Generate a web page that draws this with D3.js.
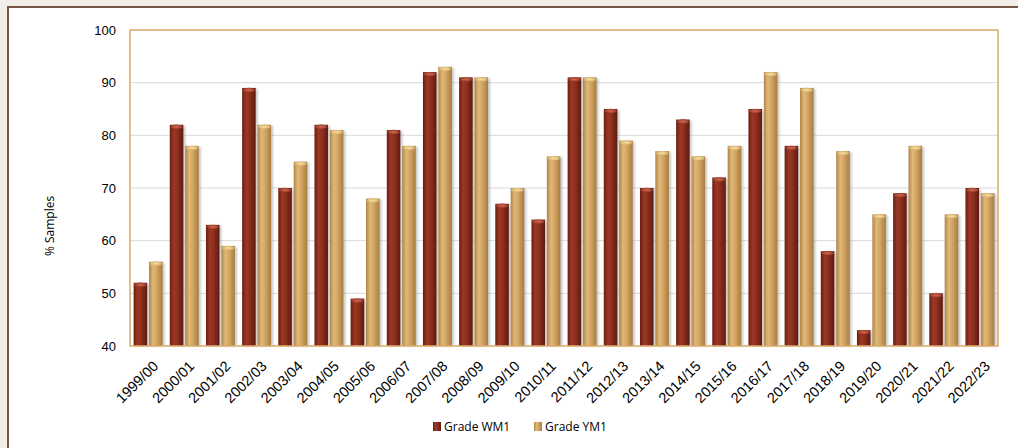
<!DOCTYPE html>
<html>
<head>
<meta charset="utf-8">
<script src="https://cdn.jsdelivr.net/npm/d3@7"></script>
<style>
  body { margin: 0; background: #f2ede7; }
  #frame { position: absolute; left: 7px; top: 6px; width: 1020px; height: 450px;
           background: #fff; border-left: 2px solid #7a5646; border-top: 2px solid #7a5646; }
  svg { position: absolute; left: 0; top: 0; }
</style>
</head>
<body>
<div id="frame"></div>
<div class="chart"></div>
<script>
var seasons = ["1999/00","2000/01","2001/02","2002/03","2003/04","2004/05","2005/06","2006/07",
               "2007/08","2008/09","2009/10","2010/11","2011/12","2012/13","2013/14","2014/15",
               "2015/16","2016/17","2017/18","2018/19","2019/20","2020/21","2021/22","2022/23"];
var gradeWM1 = [52,82,63,89,70,82,49,81,92,91,67,64,91,85,70,83,72,85,78,58,43,69,50,70];
var gradeYM1 = [56,78,59,82,75,81,68,78,93,91,70,76,91,79,77,76,78,92,89,77,65,78,65,69];
var seriesNames = ["Grade WM1","Grade YM1"];
var yTicks = [40,50,60,70,80,90,100];

var margin = {top: 30, right: 20, bottom: 102, left: 130},
    W = 1018, H = 448,
    width = 998 - margin.left,
    height = 346 - margin.top;

var svg = d3.select(".chart").append("svg")
    .attr("width", W).attr("height", H)
    .style("font-family", "'Open Sans', sans-serif");

var defs = svg.append("defs");
function cyl(id, stops) {
  var g = defs.append("linearGradient").attr("id", id)
      .attr("x1", "0%").attr("x2", "100%").attr("y1", "0%").attr("y2", "0%");
  stops.forEach(function(s){ g.append("stop").attr("offset", s[0]).attr("stop-color", s[1]); });
}
cyl("gW", [["0%","#6a1d10"],["30%","#9c3825"],["55%","#8f3020"],["100%","#5e1a0e"]]);
cyl("gY", [["0%","#b08448"],["30%","#e0b878"],["55%","#d4a764"],["100%","#a87c40"]]);
var capW = defs.append("radialGradient").attr("id","cW");
capW.append("stop").attr("offset","0%").attr("stop-color","#d06a58");
capW.append("stop").attr("offset","100%").attr("stop-color","#9a3826");
var capY = defs.append("radialGradient").attr("id","cY");
capY.append("stop").attr("offset","0%").attr("stop-color","#f6e4a0");
capY.append("stop").attr("offset","100%").attr("stop-color","#d8ae6c");
defs.append("filter").attr("id","blur").append("feGaussianBlur").attr("stdDeviation", 1.2);

var g = svg.append("g").attr("transform", "translate(" + margin.left + "," + margin.top + ")");

var x = d3.scaleBand().domain(seasons).range([0, width]).paddingInner(0.2).paddingOuter(0.1);
var x1 = d3.scaleBand().domain(seriesNames).range([0, x.bandwidth()]).paddingInner(0.12);
var y = d3.scaleLinear().domain([40, 100]).range([height, 0]);

// gridlines
g.selectAll(".grid").data(yTicks.slice(1, -1)).enter().append("line")
  .attr("x1", 0).attr("x2", width)
  .attr("y1", function(d){ return y(d); }).attr("y2", function(d){ return y(d); })
  .attr("stroke", "#d9d9d9").attr("stroke-width", 1);

// y axis labels
var yAxis = g.append("g").call(d3.axisLeft(y).tickValues(yTicks).tickSize(0).tickPadding(14));
yAxis.select(".domain").remove();
yAxis.selectAll("text").style("font-size", "13px").attr("fill", "#000");

// bars
var data = seasons.map(function(s, i){ return {season: s, vals: [
  {name: seriesNames[0], v: gradeWM1[i], fill: "url(#gW)", cap: "url(#cW)"},
  {name: seriesNames[1], v: gradeYM1[i], fill: "url(#gY)", cap: "url(#cY)"}]}; });

var groups = g.selectAll(".grp").data(data).enter().append("g")
  .attr("transform", function(d){ return "translate(" + x(d.season) + ",0)"; });

var bars = groups.selectAll(".bar").data(function(d){ return d.vals; }).enter().append("g");
bars.append("rect")
  .attr("x", function(d){ return x1(d.name) + 2; })
  .attr("y", function(d){ return y(d.v) + 1; })
  .attr("width", x1.bandwidth())
  .attr("height", function(d){ return height - y(d.v) - 1; })
  .attr("fill", "#999").attr("opacity", 0.55).attr("filter", "url(#blur)");
bars.append("rect")
  .attr("x", function(d){ return x1(d.name); })
  .attr("y", function(d){ return y(d.v); })
  .attr("width", x1.bandwidth())
  .attr("height", function(d){ return height - y(d.v); })
  .attr("fill", function(d){ return d.fill; });
bars.append("ellipse")
  .attr("cx", function(d){ return x1(d.name) + x1.bandwidth() / 2; })
  .attr("cy", function(d){ return y(d.v) + 2; })
  .attr("rx", function(){ return x1.bandwidth() / 2 - 0.5; })
  .attr("ry", 2.2)
  .attr("fill", function(d){ return d.cap; });

// plot frame
g.append("rect").attr("x", 0).attr("y", 0).attr("width", width).attr("height", height)
  .attr("fill", "none").attr("stroke", "#dcaa68").attr("stroke-width", 1.5);

// x axis labels
var xAxis = g.append("g").attr("transform", "translate(0," + height + ")")
  .call(d3.axisBottom(x).tickSize(0).tickPadding(0));
xAxis.select(".domain").remove();
xAxis.selectAll("text")
  .style("font-size", "14.5px").attr("fill", "#000")
  .style("text-anchor", "end")
  .attr("dy", null).attr("y", 0)
  .attr("transform", "translate(11,21) rotate(-45)");

// y axis title
svg.append("text")
  .attr("transform", "translate(54,226) rotate(-90)")
  .attr("text-anchor", "middle")
  .style("font-size", "12px")
  .text("% Samples");

// legend
var legend = svg.append("g").attr("transform", "translate(433,421)");
var lx = [0, 101];
seriesNames.forEach(function(n, i){
  var it = legend.append("g").attr("transform", "translate(" + lx[i] + ",0)");
  it.append("rect").attr("width", 8).attr("height", 9).attr("y", 1)
    .attr("fill", i === 0 ? "url(#gW)" : "url(#gY)");
  it.append("text").attr("x", 11).attr("y", 9.5).style("font-size", "12px").text(n);
});
</script>
</body>
</html>
